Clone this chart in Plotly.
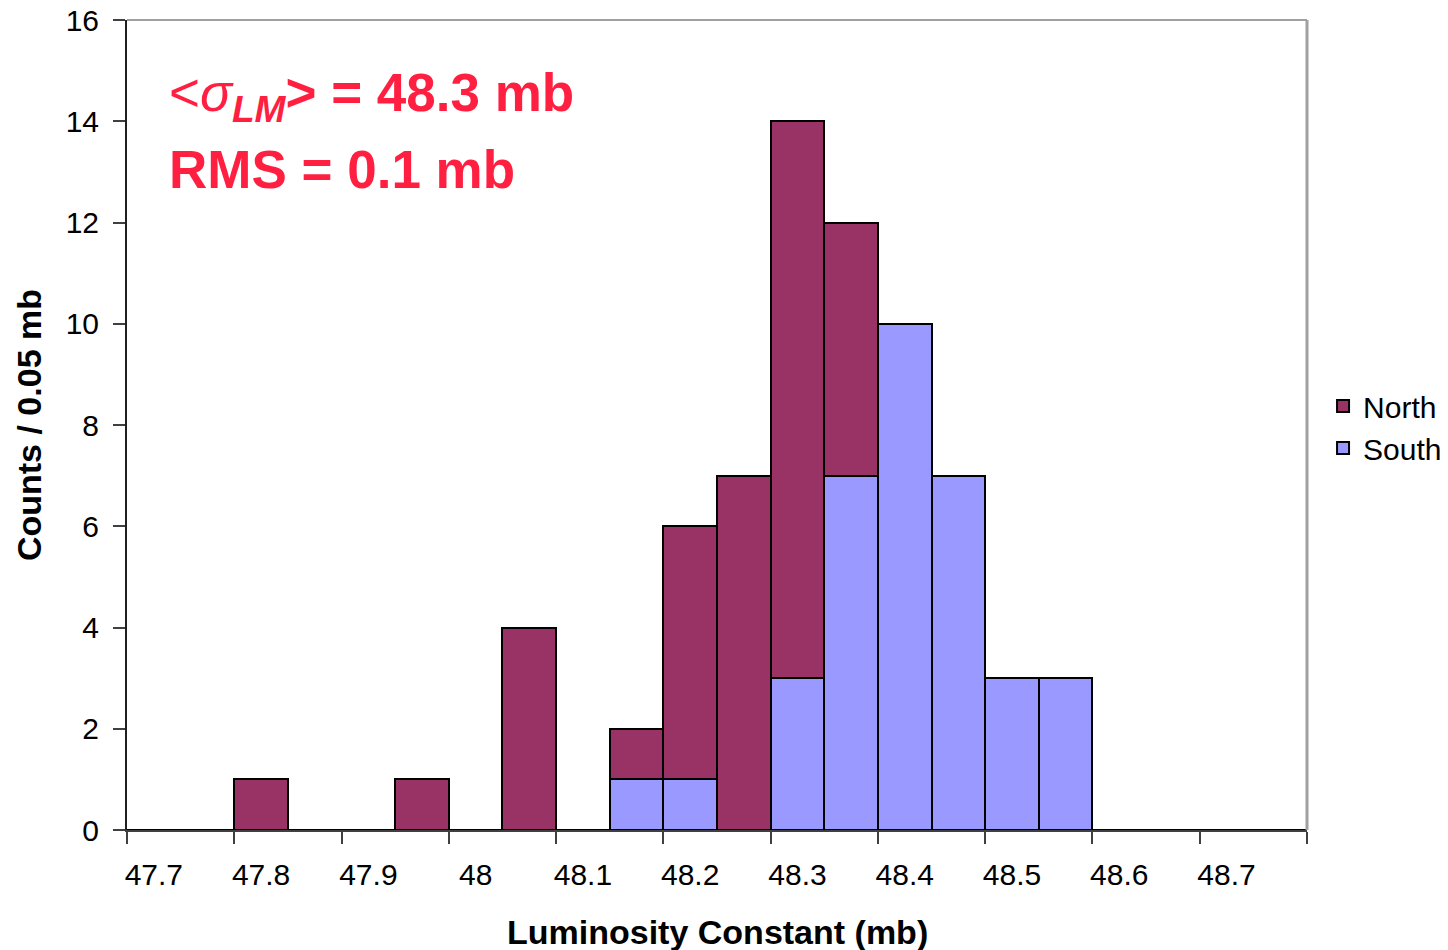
import plotly.graph_objects as go

# Bin centres (0.05 mb bins) and counts per detector
bins = [47.70, 47.75, 47.80, 47.85, 47.90, 47.95, 48.00, 48.05, 48.10, 48.15, 48.20,
        48.25, 48.30, 48.35, 48.40, 48.45, 48.50, 48.55, 48.60, 48.65, 48.70, 48.75]
north = [0, 0, 1, 0, 0, 1, 0, 4, 0, 1, 5, 7, 11, 5, 0, 0, 0, 0, 0, 0, 0, 0]
south = [0, 0, 0, 0, 0, 0, 0, 0, 0, 1, 1, 0, 3, 7, 10, 7, 3, 3, 0, 0, 0, 0]

tick_labels = ["47.7", "47.8", "47.9", "48", "48.1", "48.2", "48.3", "48.4", "48.5", "48.6", "48.7"]
label_pos = bins[::2]
half = 0.025
boundaries = [b - half for b in bins[::2]] + [bins[-1] + half]

FONT = "Liberation Sans, Arial, sans-serif"
RED = "#FF1F40"

fig = go.Figure()
fig.add_trace(go.Bar(
    x=bins, y=south, name="South", width=0.05,
    marker=dict(color="#9999FF", line=dict(color="black", width=2)),
))
fig.add_trace(go.Bar(
    x=bins, y=north, name="North", width=0.05,
    marker=dict(color="#993366", line=dict(color="black", width=2)),
))

xrange = [bins[0] - half, bins[-1] + half]

fig.update_layout(
    width=1448, height=950,
    margin=dict(l=127, r=141, t=20, b=120, autoexpand=False),
    paper_bgcolor="white", plot_bgcolor="white",
    barmode="stack", bargap=0,
    font=dict(family=FONT, size=30, color="black"),
    showlegend=True,
    legend=dict(
        x=1.0136, y=0.4975, xanchor="left", yanchor="middle",
        traceorder="reversed", font=dict(size=30, color="black"),
        bgcolor="rgba(0,0,0,0)", tracegroupgap=0,
    ),
    xaxis=dict(
        range=xrange, tickmode="array", tickvals=boundaries,
        showticklabels=False, ticks="outside", ticklen=12, tickwidth=2,
        tickcolor="#404040", showline=True, linecolor="#404040", linewidth=2,
        showgrid=False, zeroline=False, automargin=False,
    ),
    xaxis2=dict(
        overlaying="x", matches="x", side="bottom", anchor="y",
        tickmode="array", tickvals=label_pos, ticktext=tick_labels,
        ticks="", showline=False, showgrid=False, zeroline=False,
        tickfont=dict(size=30), ticklabelstandoff=24, automargin=False,
    ),
    yaxis=dict(
        range=[0, 16], tickmode="array", tickvals=list(range(0, 17, 2)),
        ticks="outside", ticklen=12, tickwidth=2, tickcolor="#404040",
        showline=True, linecolor="#202020", linewidth=2,
        showgrid=False, zeroline=False, tickfont=dict(size=30),
        ticklabelstandoff=8, automargin=False,
    ),
)

# Axis titles
fig.add_annotation(
    xref="paper", yref="paper", x=0.5, y=-0.126, xanchor="center", yanchor="middle",
    text="<b>Luminosity Constant (mb)</b>", showarrow=False,
    font=dict(size=34, color="black", family=FONT),
)
fig.add_annotation(
    xref="paper", yref="paper", x=-0.083, y=0.5, xanchor="center", yanchor="middle",
    text="<b>Counts / 0.05 mb</b>", showarrow=False, textangle=-90,
    font=dict(size=34, color="black", family=FONT),
)

# Grey frame on the top and right of the plot area
fig.add_shape(type="line", xref="paper", yref="paper", x0=0, x1=1, y0=1, y1=1,
              line=dict(color="#A0A0A0", width=2))
fig.add_shape(type="line", xref="paper", yref="paper", x0=1, x1=1, y0=0, y1=1,
              line=dict(color="#A0A0A0", width=3))

# A hidden trace ties the label axis to the plot
fig.add_trace(go.Scatter(x=[xrange[0]], y=[0], xaxis="x2", mode="none",
                         showlegend=False, hoverinfo="skip"))

fig.add_annotation(
    xref="paper", yref="paper", x=0.034, y=0.906, xanchor="left", yanchor="middle",
    text="&lt;<i>σ<sub><b>LM</b></sub></i><b>&gt; = 48.3 mb</b>", showarrow=False,
    font=dict(size=53, color=RED, family=FONT),
)
fig.add_annotation(
    xref="paper", yref="paper", x=0.034, y=0.815, xanchor="left", yanchor="middle",
    text="<b>RMS = 0.1 mb</b>", showarrow=False,
    font=dict(size=53, color=RED, family=FONT),
)

fig.write_html("out.html")
